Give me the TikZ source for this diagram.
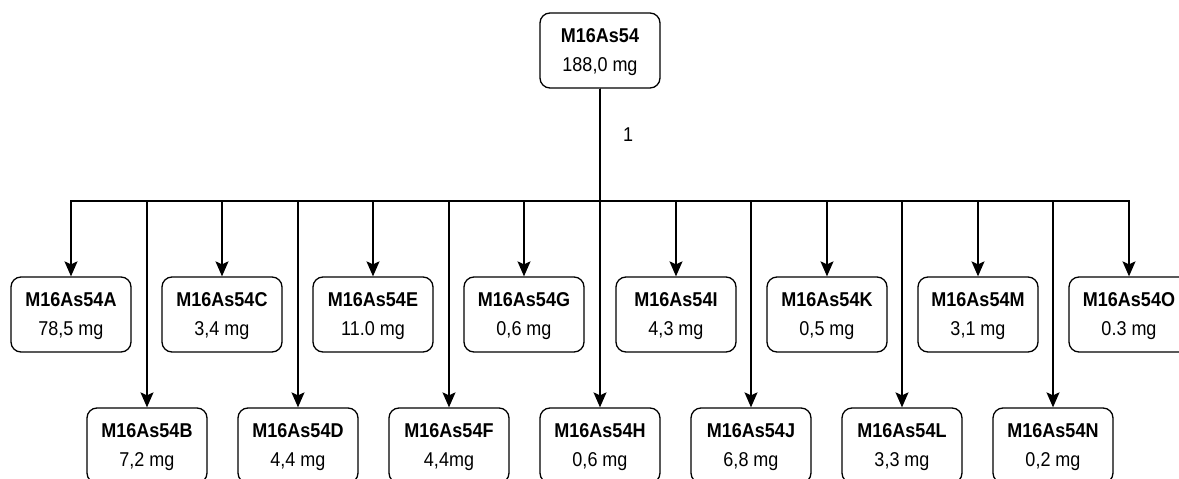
\documentclass[tikz,border=0pt]{standalone}
\usepackage{fontspec}
\setmainfont{Liberation Sans}[FakeStretch=0.9]
\usetikzlibrary{arrows.meta}
\begin{document}
\begin{tikzpicture}[x=1pt,y=-1pt,
  box/.style={draw, line width=1.3pt, rounded corners=10pt, minimum width=120pt, minimum height=75pt,
    inner sep=0pt, align=center, text depth=0pt, font=\fontsize{20}{29}\selectfont},
  conn/.style={line width=1.3pt, -{Stealth[length=15pt,width=13pt,inset=3pt]}}]
\useasboundingbox (0,0) rectangle (1179,479);
\clip (0,0) rectangle (1179,479);
\fill[white] (0,0) rectangle (1179,479);
\node[box] (top) at (600,50.5) {\textbf{M16As54}\\188,0 mg};
\coordinate (bus) at (600,201);
\node[box] (A) at (71,314.5) {\textbf{M16As54A}\\78,5 mg};
\node[box] (B) at (147,445.5) {\textbf{M16As54B}\\7,2 mg};
\node[box] (C) at (222,314.5) {\textbf{M16As54C}\\3,4 mg};
\node[box] (D) at (298,445.5) {\textbf{M16As54D}\\4,4 mg};
\node[box] (E) at (373,314.5) {\textbf{M16As54E}\\11.0 mg};
\node[box] (F) at (449,445.5) {\textbf{M16As54F}\\4,4mg};
\node[box] (G) at (524,314.5) {\textbf{M16As54G}\\0,6 mg};
\node[box] (H) at (600,445.5) {\textbf{M16As54H}\\0,6 mg};
\node[box] (I) at (676,314.5) {\textbf{M16As54I}\\4,3 mg};
\node[box] (J) at (751,445.5) {\textbf{M16As54J}\\6,8 mg};
\node[box] (K) at (827,314.5) {\textbf{M16As54K}\\0,5 mg};
\node[box] (L) at (902,445.5) {\textbf{M16As54L}\\3,3 mg};
\node[box] (M) at (978,314.5) {\textbf{M16As54M}\\3,1 mg};
\node[box] (N) at (1053,445.5) {\textbf{M16As54N}\\0,2 mg};
\node[box] (O) at (1129,314.5) {\textbf{M16As54O}\\0.3 mg};
\foreach \n in {A,B,C,D,E,F,G,H,I,J,K,L,M,N,O}{
  \draw[conn] (top.south) -- (bus) -| (\n.north);
}
\node[font=\fontsize{20}{24}\selectfont] (lbl) at (628,135) {1};
\end{tikzpicture}
\end{document}
